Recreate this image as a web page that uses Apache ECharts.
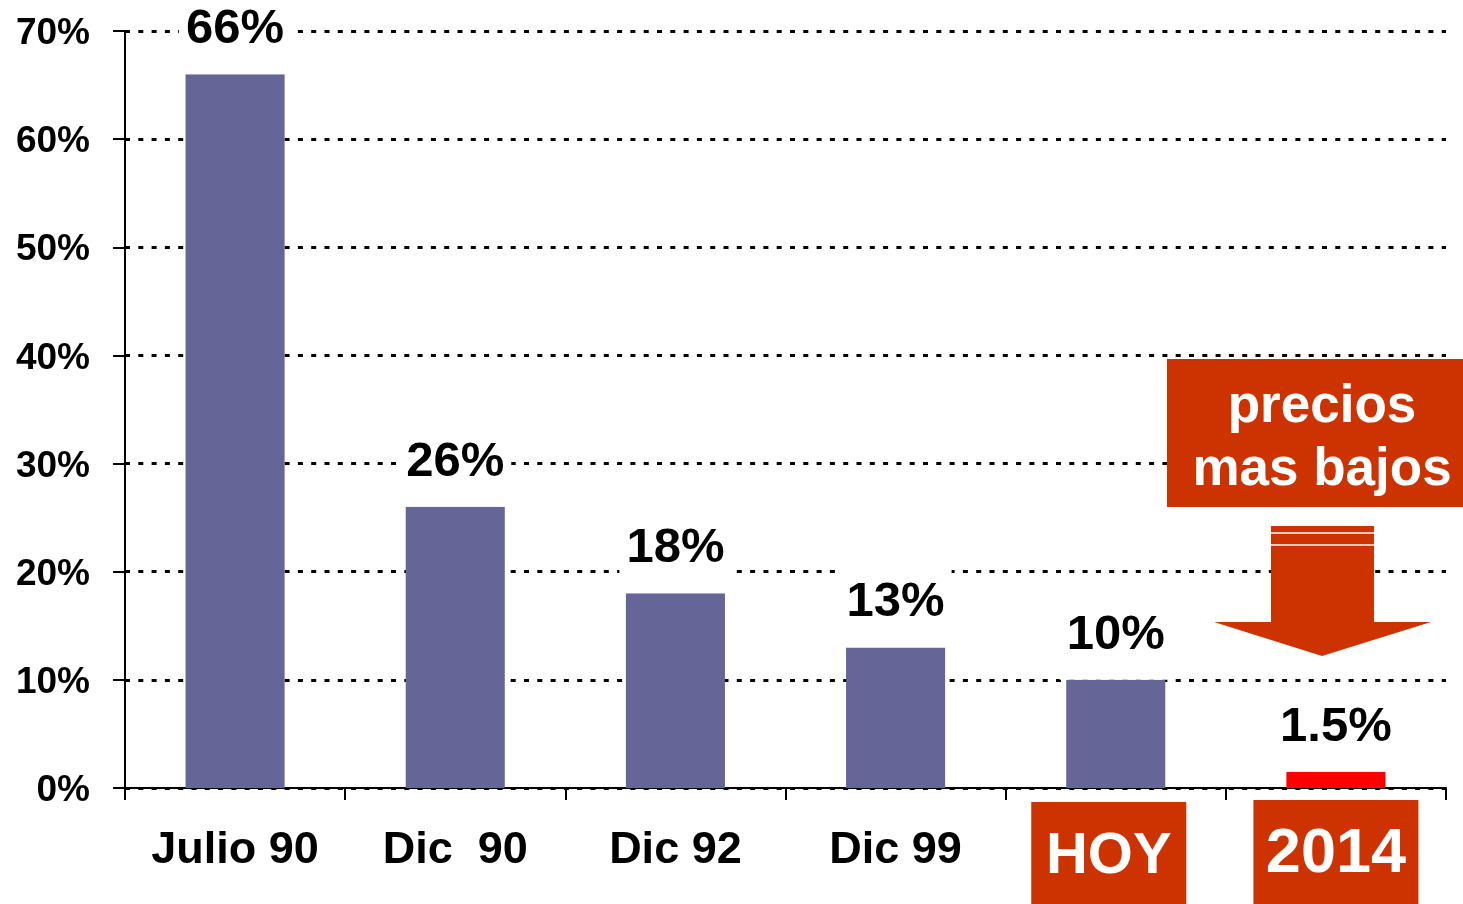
<!DOCTYPE html>
<html>
<head>
<meta charset="utf-8">
<script src="https://cdn.jsdelivr.net/npm/echarts@6/dist/echarts.min.js"></script>
<style>
  html, body { margin: 0; padding: 0; background: #fff; }
  #chart { width: 1463px; height: 904px; }
</style>
</head>
<body>
<div id="chart"></div>
<script>
// datos del grafico
const categories = ['Julio 90', 'Dic  90', 'Dic 92', 'Dic 99', 'HOY', '2014'];
const values = [66, 26, 18, 13, 10, 1.5];
const boxedCategories = ['HOY', '2014'];
const noteLines = ['precios', 'mas bajos'];

const FONT = '"Liberation Sans", Arial, sans-serif';
const BLUE = '#656598';
const RED = '#ff0000';
const ORANGE = '#cc3300';

const chart = echarts.init(document.getElementById('chart'));

// etiqueta de categoria: las ultimas van en caja naranja
function catLabel(v) {
  if (v === '2014') return '{y2014|' + v + '}';
  if (boxedCategories.indexOf(v) >= 0) return '{hoy|' + v + '}{gap|}';
  return '{n|' + v + '}';
}

const option = {
  backgroundColor: '#fff',
  animation: false,
  grid: { left: 125, right: 17, top: 31, bottom: 116, outerBoundsMode: 'none' },
  xAxis: {
    type: 'category',
    data: categories,
    axisLine: { lineStyle: { color: '#000', width: 2 } },
    axisTick: { show: true, length: 12, lineStyle: { color: '#000', width: 2 } },
    axisLabel: {
      margin: 14,
      interval: 0,
      formatter: catLabel,
      rich: {
        n: { fontSize: 45, fontWeight: 'bold', color: '#000', fontFamily: FONT, lineHeight: 98, height: 98 },
        hoy: {
          fontSize: 58, fontWeight: 'bold', color: '#fff', fontFamily: FONT,
          backgroundColor: ORANGE, width: 155, height: 110, lineHeight: 110, align: 'center'
        },
        gap: { width: 14, height: 110, lineHeight: 110 },
        y2014: {
          fontSize: 63, fontWeight: 'bold', color: '#fff', fontFamily: FONT,
          backgroundColor: ORANGE, width: 165, height: 110, lineHeight: 106, align: 'center'
        }
      }
    }
  },
  yAxis: {
    type: 'value',
    min: 0,
    max: 70,
    interval: 10,
    axisLine: { show: true, lineStyle: { color: '#000', width: 2 } },
    axisTick: { show: true, length: 12, lineStyle: { color: '#000', width: 2 } },
    axisLabel: {
      formatter: '{value}%',
      margin: 35,
      fontSize: 37,
      fontWeight: 'bold',
      color: '#000',
      fontFamily: FONT,
      verticalAlign: 'top',
      lineHeight: 6
    },
    splitLine: { show: true, lineStyle: { color: '#000', width: 3, type: [5, 8.3] } }
  },
  series: [{
    type: 'bar',
    data: values,
    barWidth: '45%',
    itemStyle: {
      color: p => (p.dataIndex === values.length - 1 ? RED : BLUE)
    },
    label: {
      show: true,
      position: 'top',
      distance: 0,
      formatter: p => p.value + '%',
      fontSize: 49,
      fontWeight: 'bold',
      color: '#000',
      fontFamily: FONT,
      lineHeight: 49,
      backgroundColor: '#fff',
      padding: [17, 7, 20, 7]
    }
  }],
  graphic: [
    // caja "precios mas bajos"
    {
      type: 'rect',
      shape: { x: 1167, y: 359, width: 296, height: 148 },
      style: { fill: ORANGE },
      z: 100
    },
    {
      type: 'text',
      x: 1322,
      y: 439,
      style: {
        text: noteLines.join('\n'),
        fill: '#fff',
        fontSize: 53,
        fontWeight: 'bold',
        fontFamily: FONT,
        lineHeight: 63,
        align: 'center',
        verticalAlign: 'middle'
      },
      z: 101
    },
    // flecha hacia abajo
    {
      type: 'polygon',
      shape: {
        points: [[1271, 526], [1374, 526], [1374, 622], [1431, 622], [1322, 656], [1214, 622], [1271, 622]]
      },
      style: { fill: ORANGE },
      z: 100
    },
    {
      type: 'line',
      shape: { x1: 1271, y1: 533, x2: 1374, y2: 533 },
      style: { stroke: '#fff', lineWidth: 1.5 },
      z: 101
    },
    {
      type: 'line',
      shape: { x1: 1271, y1: 545, x2: 1374, y2: 545 },
      style: { stroke: '#fff', lineWidth: 1.5 },
      z: 101
    }
  ]
};

chart.setOption(option);
</script>
</body>
</html>
